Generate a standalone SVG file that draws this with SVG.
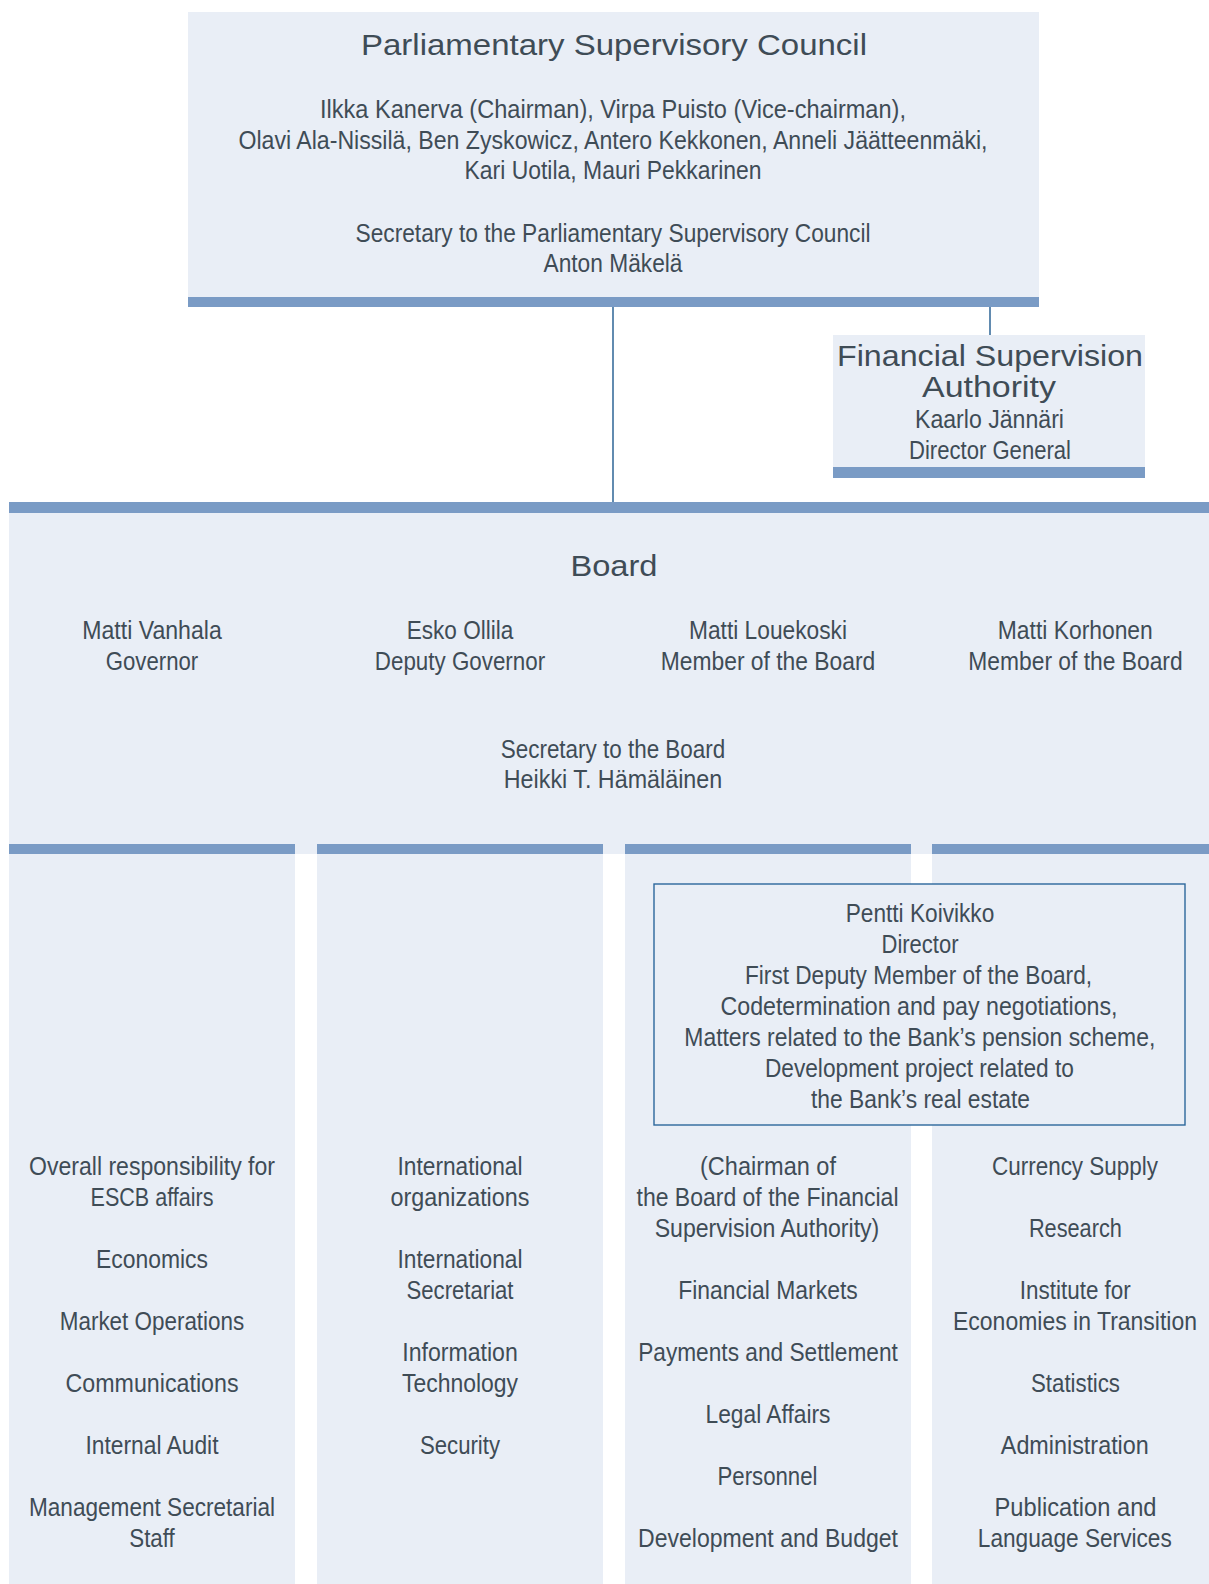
<svg xmlns="http://www.w3.org/2000/svg" width="1209" height="1584" viewBox="0 0 1209 1584">
<style>
.fill{fill:#e9eef6}
.bar{fill:#7a9bc5}
.conn{stroke:#1f5a8f;stroke-width:1.4;fill:none}
text{font-family:"Liberation Sans",Arial,sans-serif;fill:#3f4c56;text-anchor:middle}
.t{font-size:25px}
.h{font-size:30px}
.pbox{fill:none;stroke:#2b679c;stroke-width:1.4}
</style>
<rect x="0" y="0" width="1209" height="1584" fill="#ffffff"/>
<g id="connectors">
<line class="conn" x1="613" y1="307" x2="613" y2="502"/>
<line class="conn" x1="990" y1="307" x2="990" y2="335"/>
</g>
<g id="psc">
<rect class="fill" x="188" y="12" width="851" height="285"/>
<rect class="bar" x="188" y="297" width="851" height="10"/>
<text class="h" x="614" y="55" textLength="506" lengthAdjust="spacingAndGlyphs">Parliamentary Supervisory Council</text>
<text class="t" x="613" y="117.7" textLength="586" lengthAdjust="spacingAndGlyphs">Ilkka Kanerva (Chairman), Virpa Puisto (Vice-chairman),</text>
<text class="t" x="613" y="148.5" textLength="749" lengthAdjust="spacingAndGlyphs">Olavi Ala-Nissilä, Ben Zyskowicz, Antero Kekkonen, Anneli Jäätteenmäki,</text>
<text class="t" x="613" y="179.3" textLength="297" lengthAdjust="spacingAndGlyphs">Kari Uotila, Mauri Pekkarinen</text>
<text class="t" x="613" y="241.7" textLength="515" lengthAdjust="spacingAndGlyphs">Secretary to the Parliamentary Supervisory Council</text>
<text class="t" x="613" y="272" textLength="139" lengthAdjust="spacingAndGlyphs">Anton Mäkelä</text>
</g>
<g id="fsa">
<rect class="fill" x="833" y="335" width="312" height="132"/>
<rect class="bar" x="833" y="467" width="312" height="11"/>
<text class="h" x="990" y="366" textLength="306" lengthAdjust="spacingAndGlyphs">Financial Supervision</text>
<text class="h" x="989" y="397" textLength="134" lengthAdjust="spacingAndGlyphs">Authority</text>
<text class="t" x="989.5" y="428" textLength="149" lengthAdjust="spacingAndGlyphs">Kaarlo Jännäri</text>
<text class="t" x="990" y="458.5" textLength="162" lengthAdjust="spacingAndGlyphs">Director General</text>
</g>
<g id="board">
<rect class="fill" x="9" y="502" width="1200" height="352"/>
<rect class="bar" x="9" y="502" width="1200" height="11"/>
<text class="h" x="614" y="575.7" textLength="87" lengthAdjust="spacingAndGlyphs">Board</text>
<text class="t" x="152" y="639.3" textLength="139.5" lengthAdjust="spacingAndGlyphs">Matti Vanhala</text>
<text class="t" x="152" y="670.3" textLength="92.4" lengthAdjust="spacingAndGlyphs">Governor</text>
<text class="t" x="460" y="639.3" textLength="106.7" lengthAdjust="spacingAndGlyphs">Esko Ollila</text>
<text class="t" x="460" y="670.3" textLength="170.3" lengthAdjust="spacingAndGlyphs">Deputy Governor</text>
<text class="t" x="768" y="639.3" textLength="158" lengthAdjust="spacingAndGlyphs">Matti Louekoski</text>
<text class="t" x="768" y="670.3" textLength="214.4" lengthAdjust="spacingAndGlyphs">Member of the Board</text>
<text class="t" x="1075.3" y="639.3" textLength="155" lengthAdjust="spacingAndGlyphs">Matti Korhonen</text>
<text class="t" x="1075.5" y="670.3" textLength="214.3" lengthAdjust="spacingAndGlyphs">Member of the Board</text>
<text class="t" x="613" y="757.7" textLength="224.5" lengthAdjust="spacingAndGlyphs">Secretary to the Board</text>
<text class="t" x="613" y="788.3" textLength="218.4" lengthAdjust="spacingAndGlyphs">Heikki T. Hämäläinen</text>
</g>
<g id="col1">
<rect class="bar" x="9" y="844" width="286" height="10"/>
<rect class="fill" x="9" y="854" width="286" height="730"/>
<text class="t" x="152" y="1175" textLength="246" lengthAdjust="spacingAndGlyphs">Overall responsibility for</text>
<text class="t" x="152" y="1206" textLength="123" lengthAdjust="spacingAndGlyphs">ESCB affairs</text>
<text class="t" x="152" y="1267.9" textLength="112" lengthAdjust="spacingAndGlyphs">Economics</text>
<text class="t" x="152" y="1329.8" textLength="184.5" lengthAdjust="spacingAndGlyphs">Market Operations</text>
<text class="t" x="152" y="1391.7" textLength="173" lengthAdjust="spacingAndGlyphs">Communications</text>
<text class="t" x="152" y="1453.6" textLength="133" lengthAdjust="spacingAndGlyphs">Internal Audit</text>
<text class="t" x="152" y="1515.5" textLength="246" lengthAdjust="spacingAndGlyphs">Management Secretarial</text>
<text class="t" x="152" y="1546.5" textLength="45.5" lengthAdjust="spacingAndGlyphs">Staff</text>
</g>
<g id="col2">
<rect class="bar" x="317" y="844" width="286" height="10"/>
<rect class="fill" x="317" y="854" width="286" height="730"/>
<text class="t" x="460" y="1175" textLength="125" lengthAdjust="spacingAndGlyphs">International</text>
<text class="t" x="460" y="1206" textLength="139" lengthAdjust="spacingAndGlyphs">organizations</text>
<text class="t" x="460" y="1267.9" textLength="125" lengthAdjust="spacingAndGlyphs">International</text>
<text class="t" x="460" y="1298.8" textLength="107" lengthAdjust="spacingAndGlyphs">Secretariat</text>
<text class="t" x="460" y="1360.7" textLength="115.5" lengthAdjust="spacingAndGlyphs">Information</text>
<text class="t" x="460" y="1391.7" textLength="116" lengthAdjust="spacingAndGlyphs">Technology</text>
<text class="t" x="460" y="1453.6" textLength="80" lengthAdjust="spacingAndGlyphs">Security</text>
</g>
<g id="col3">
<rect class="bar" x="625" y="844" width="286" height="10"/>
<rect class="fill" x="625" y="854" width="286" height="730"/>
<text class="t" x="768" y="1175" textLength="136" lengthAdjust="spacingAndGlyphs">(Chairman of</text>
<text class="t" x="767.5" y="1206" textLength="262" lengthAdjust="spacingAndGlyphs">the Board of the Financial</text>
<text class="t" x="767" y="1236.9" textLength="224.6" lengthAdjust="spacingAndGlyphs">Supervision Authority)</text>
<text class="t" x="768" y="1298.8" textLength="179.5" lengthAdjust="spacingAndGlyphs">Financial Markets</text>
<text class="t" x="768" y="1360.7" textLength="259.7" lengthAdjust="spacingAndGlyphs">Payments and Settlement</text>
<text class="t" x="768" y="1422.6" textLength="125" lengthAdjust="spacingAndGlyphs">Legal Affairs</text>
<text class="t" x="767.5" y="1484.5" textLength="100" lengthAdjust="spacingAndGlyphs">Personnel</text>
<text class="t" x="768" y="1546.5" textLength="260" lengthAdjust="spacingAndGlyphs">Development and Budget</text>
</g>
<g id="col4">
<rect class="bar" x="932" y="844" width="277" height="10"/>
<rect class="fill" x="932" y="854" width="277" height="730"/>
<text class="t" x="1075" y="1175" textLength="166" lengthAdjust="spacingAndGlyphs">Currency Supply</text>
<text class="t" x="1075.4" y="1236.9" textLength="93" lengthAdjust="spacingAndGlyphs">Research</text>
<text class="t" x="1075.3" y="1298.8" textLength="111" lengthAdjust="spacingAndGlyphs">Institute for</text>
<text class="t" x="1075" y="1329.8" textLength="244" lengthAdjust="spacingAndGlyphs">Economies in Transition</text>
<text class="t" x="1075.5" y="1391.7" textLength="89" lengthAdjust="spacingAndGlyphs">Statistics</text>
<text class="t" x="1074.8" y="1453.6" textLength="148" lengthAdjust="spacingAndGlyphs">Administration</text>
<text class="t" x="1075.5" y="1515.5" textLength="162" lengthAdjust="spacingAndGlyphs">Publication and</text>
<text class="t" x="1074.8" y="1546.5" textLength="194" lengthAdjust="spacingAndGlyphs">Language Services</text>
</g>
<g id="pentti">
<rect class="fill" x="654" y="884" width="531" height="241"/>
<rect class="pbox" x="654" y="884" width="531" height="241"/>
<text class="t" x="920" y="921.7" textLength="148.6" lengthAdjust="spacingAndGlyphs">Pentti Koivikko</text>
<text class="t" x="920" y="952.7" textLength="77" lengthAdjust="spacingAndGlyphs">Director</text>
<text class="t" x="918.5" y="983.7" textLength="347" lengthAdjust="spacingAndGlyphs">First Deputy Member of the Board,</text>
<text class="t" x="919" y="1014.7" textLength="397" lengthAdjust="spacingAndGlyphs">Codetermination and pay negotiations,</text>
<text class="t" x="919.8" y="1045.7" textLength="471" lengthAdjust="spacingAndGlyphs">Matters related to the Bank’s pension scheme,</text>
<text class="t" x="919.4" y="1076.7" textLength="309" lengthAdjust="spacingAndGlyphs">Development project related to</text>
<text class="t" x="920.5" y="1108" textLength="219" lengthAdjust="spacingAndGlyphs">the Bank’s real estate</text>
</g>
</svg>
